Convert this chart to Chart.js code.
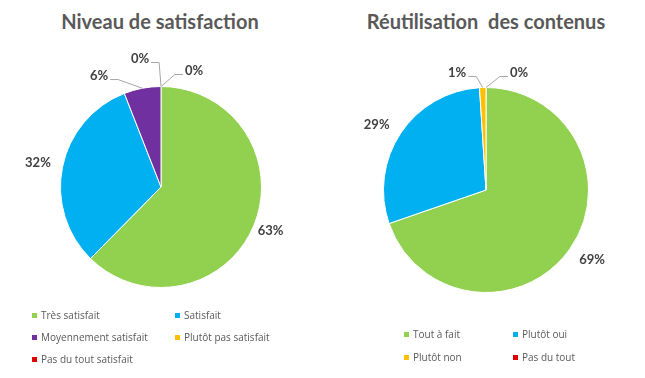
<!DOCTYPE html>
<html>
<head>
<meta charset="utf-8">
<script src="https://cdn.jsdelivr.net/npm/chart.js@4.4.0/dist/chart.umd.min.js"></script>
<style>
    body { margin: 0; width: 645px; height: 378px; background: #fff; position: relative; overflow: hidden; }
    canvas { position: absolute; top: 0; }
    .title { position: absolute; top: 9px; width: 320px; text-align: center; font: bold 20px Lato; color: #595959; line-height: 24px; white-space: pre; }
    .legend { position: absolute; font: 10px "Open Sans"; color: #595959; }
    .legend .item { position: absolute; white-space: nowrap; line-height: 14px; }
    .legend .box { display: inline-block; width: 5px; height: 5px; margin-right: 4px; vertical-align: 1px; }
</style>
</head>
<body>
<div class="title" id="title1"></div>
<div class="title" id="title2"></div>
<canvas id="chart1" width="322" height="378" style="left:0px"></canvas>
<canvas id="chart2" width="323" height="378" style="left:322px"></canvas>
<div class="legend" id="legend1"></div>
<div class="legend" id="legend2"></div>
<script>
// Niveau de satisfaction
const satisfactionTitle = 'Niveau de satisfaction';
const satisfactionLabels = ['Très satisfait', 'Satisfait', 'Moyennement satisfait', 'Plutôt pas satisfait', 'Pas du tout satisfait'];
const satisfactionValues = [63, 32, 6, 0, 0];
const satisfactionColors = ['#92d050', '#00b0f0', '#7030a0', '#ffc000', '#e00000'];

// Réutilisation des contenus
const reuseTitle = 'Réutilisation  des contenus';
const reuseLabels = ['Tout à fait', 'Plutôt oui', 'Plutôt non', 'Pas du tout'];
const reuseValues = [69, 29, 1, 0];
const reuseColors = ['#92d050', '#00b0f0', '#ffc000', '#e00000'];

// percent labels outside the pie, with leader lines for the small slices
const outLabels = {
    id: 'outLabels',
    afterDatasetsDraw(chart, args, opts) {
        const ctx = chart.ctx;
        const meta = chart.getDatasetMeta(0);
        const values = chart.data.datasets[0].data;
        ctx.save();
        ctx.font = 'bold 13px Lato';
        ctx.fillStyle = '#404040';
        ctx.textAlign = 'center';
        ctx.textBaseline = 'middle';
        meta.data.forEach((arc, i) => {
            const p = arc.getProps(['x', 'y', 'startAngle', 'endAngle', 'outerRadius'], true);
            const mid = (p.startAngle + p.endAngle) / 2;
            const d = p.outerRadius + opts.distance;
            const nudge = opts.nudges[i] || [0, 0];
            const lx = p.x + Math.cos(mid) * d + nudge[0];
            const ly = p.y + Math.sin(mid) * d + nudge[1];
            const text = Math.round(values[i]) + '%';
            if (opts.leaders[i]) {
                const w = ctx.measureText(text).width;
                const side = nudge[0] < 0 ? 1 : -1;
                const sx = lx + side * (w / 2 + 2);
                const sy = ly + 4;
                ctx.beginPath();
                ctx.moveTo(sx, sy);
                ctx.lineTo(sx + side * 8, sy);
                ctx.lineTo(p.x + Math.cos(mid) * p.outerRadius, p.y + Math.sin(mid) * p.outerRadius);
                ctx.strokeStyle = '#a6a6a6';
                ctx.lineWidth = 1;
                ctx.stroke();
            }
            ctx.fillText(text, lx, ly);
        });
        ctx.restore();
    }
};

function drawPie(id, labels, values, colors, padding, nudges, leaders) {
    const ctx = document.getElementById(id).getContext('2d');
    return new Chart(ctx, {
        type: 'pie',
        data: {
            labels: labels,
            datasets: [{
                data: values,
                backgroundColor: colors,
                borderColor: '#ffffff',
                borderWidth: 1
            }]
        },
        options: {
            responsive: false,
            animation: false,
            devicePixelRatio: 1,
            layout: { padding: padding },
            plugins: {
                legend: { display: false },
                tooltip: { enabled: false },
                outLabels: { distance: 18, nudges: nudges, leaders: leaders }
            }
        },
        plugins: [outLabels]
    });
}

function drawLegend(id, labels, colors, left, top, colWidth, rowHeight) {
    const el = document.getElementById(id);
    el.style.left = left + 'px';
    el.style.top = top + 'px';
    labels.forEach((label, i) => {
        const item = document.createElement('div');
        item.className = 'item';
        item.style.left = (i % 2) * colWidth + 'px';
        item.style.top = Math.floor(i / 2) * rowHeight + 'px';
        item.innerHTML = '<span class="box" style="background:' + colors[i] + '"></span>' + label;
        el.appendChild(item);
    });
}

document.getElementById('title1').textContent = satisfactionTitle;
document.getElementById('title1').style.left = '0px';
document.getElementById('title2').textContent = reuseTitle;
document.getElementById('title2').style.left = '326px';

drawPie('chart1', satisfactionLabels, satisfactionValues, satisfactionColors,
    { left: 60, right: 60, top: 86, bottom: 90 },
    [[0, -1], [-7, 0], [-40, 5], [-21, -10], [33, 2]],
    [false, false, true, true, true]);

drawPie('chart2', reuseLabels, reuseValues, reuseColors,
    { left: 61, right: 56, top: 87, bottom: 85 },
    [[8, 0], [-9, 2], [-25, 3], [33, 3]],
    [false, false, true, true]);

drawLegend('legend1', satisfactionLabels, satisfactionColors, 32, 308, 143, 22);
drawLegend('legend2', reuseLabels, reuseColors, 404, 327, 109, 23);
</script>
</body>
</html>
